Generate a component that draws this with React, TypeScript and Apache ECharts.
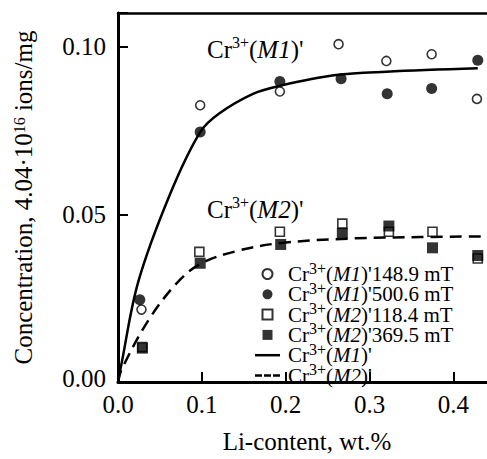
import React, { useEffect, useRef } from 'react';
import * as echarts from 'echarts';

// ---- data ----
const xTickValues = [0.0, 0.1, 0.2, 0.3, 0.4];
const yTickValues = [0.0, 0.05, 0.1];

const m1Open148: [number, number][] = [
  [0.028, 0.0216], [0.098, 0.0825], [0.193, 0.0866], [0.263, 0.1007],
  [0.320, 0.0957], [0.374, 0.0977], [0.428, 0.0844],
];
const m1Filled500: [number, number][] = [
  [0.026, 0.0245], [0.098, 0.0745], [0.193, 0.0896], [0.266, 0.0904],
  [0.321, 0.0859], [0.374, 0.0875], [0.429, 0.0959],
];
const m2Open118: [number, number][] = [
  [0.029, 0.0104], [0.097, 0.0388], [0.193, 0.0448], [0.2675, 0.0472],
  [0.323, 0.0448], [0.375, 0.0448], [0.429, 0.0368],
];
const m2Filled369: [number, number][] = [
  [0.029, 0.0101], [0.098, 0.0354], [0.194, 0.041], [0.2675, 0.0443],
  [0.323, 0.0465], [0.375, 0.040], [0.429, 0.0377],
];
const m1Fit: [number, number][] = [
  [0, 0], [0.0036, 0.0047], [0.0242, 0.0299], [0.0619, 0.0559],
  [0.098, 0.0745], [0.121, 0.0801], [0.161, 0.0859], [0.193, 0.0883],
  [0.260, 0.0915], [0.320, 0.0925], [0.429, 0.0935],
];
const m2Fit: [number, number][] = [
  [0, 0], [0.0044, 0.0038], [0.036, 0.0183], [0.0698, 0.0294],
  [0.098, 0.0352], [0.141, 0.039], [0.193, 0.0414], [0.280, 0.0428],
  [0.360, 0.0432], [0.44, 0.0434],
];

const seriesNames = [
  "Cr3+(M1)'148.9 mT",
  "Cr3+(M1)'500.6 mT",
  "Cr3+(M2)'118.4 mT",
  "Cr3+(M2)'369.5 mT",
  "Cr3+(M1)'",
  "Cr3+(M2)'",
];
const legendRich: Record<string, string> = {
  "Cr3+(M1)'148.9 mT": "{g|}{t|Cr}{s|3+}{t|(}{i|M1}{t|)'148.9 mT}",
  "Cr3+(M1)'500.6 mT": "{g|}{t|Cr}{s|3+}{t|(}{i|M1}{t|)'500.6 mT}",
  "Cr3+(M2)'118.4 mT": "{g|}{t|Cr}{s|3+}{t|(}{i|M2}{t|)'118.4 mT}",
  "Cr3+(M2)'369.5 mT": "{g|}{t|Cr}{s|3+}{t|(}{i|M2}{t|)'369.5 mT}",
  "Cr3+(M1)'": "{g|}{t|Cr}{s|3+}{t|(}{i|M1}{t|)'}",
  "Cr3+(M2)'": "{g|}{t|Cr}{s|3+}{t|(}{i|M2}{t|)'}",
};
const SQUARE = 'path://M0 0H10V10H0Z';
const SOLID_LINE = 'path://M0 0H25V2.5H0Z';
const DASH_LINE = 'path://M0 0H7V2.5H0Z M9 0H16V2.5H9Z M18 0H25V2.5H18Z';

const FONT = "'Liberation Serif', 'Times New Roman', serif";

export default function App() {
  const ref = useRef<HTMLDivElement>(null);
  useEffect(() => {
    const chart = echarts.init(ref.current!, null, { renderer: 'svg' });
    const open = { color: '#fff', borderColor: '#000', borderWidth: 1.6 };
    const filled = { color: '#000', borderColor: '#000', borderWidth: 0 };
    const annRich = {
      t: { fontFamily: FONT, fontSize: 25, lineHeight: 30, fill: '#000' },
      i: { fontFamily: FONT, fontSize: 25, lineHeight: 30, fontStyle: 'italic', fill: '#000' },
      s: { fontFamily: FONT, fontSize: 16, verticalAlign: 'top', fill: '#000' },
    };
    const option: any = {
      animation: false,
      backgroundColor: '#fff',
      grid: { left: 118, top: 13, right: 0, bottom: 66, containLabel: false },
      xAxis: [
        {
          type: 'value', min: 0, max: 0.44, interval: 0.1,
          name: 'Li-content, wt.%', nameLocation: 'middle', nameGap: 47,
          nameTextStyle: { fontFamily: FONT, fontSize: 25, color: '#000', padding: [0, 0, 0, 9] },
          axisLine: { show: true, onZero: false, lineStyle: { color: '#000', width: 3 } },
          axisTick: { show: true, inside: true, length: 10, lineStyle: { color: '#000', width: 2 } },
          axisLabel: {
            fontFamily: FONT, fontSize: 25, color: '#000', margin: 10, showMaxLabel: false,
            formatter: (v: number) => {
              const hit = xTickValues.find((t) => Math.abs(t - v) < 1e-9);
              return hit === undefined ? '' : hit.toFixed(1);
            },
          },
          splitLine: { show: false },
        },
        {
          type: 'value', min: 0, max: 0.44, position: 'top',
          axisLine: { show: true, onZero: false, lineStyle: { color: '#000', width: 2.5 } },
          axisTick: { show: false }, axisLabel: { show: false }, splitLine: { show: false },
        },
      ],
      yAxis: {
        type: 'value', min: 0, max: 0.11, interval: 0.05,
        name: 'Concentration, 4.04·10{s|16} ions/mg',
        nameLocation: 'middle', nameGap: 82, nameRotate: 90,
        nameTextStyle: {
          fontFamily: FONT, fontSize: 25, color: '#000',
          rich: {
            s: { fontFamily: FONT, fontSize: 16, verticalAlign: 'top', color: '#000' },
          },
        },
        axisLine: { show: true, onZero: false, lineStyle: { color: '#000', width: 3 } },
        axisTick: { show: true, inside: true, length: 10, lineStyle: { color: '#000', width: 2 } },
        axisLabel: {
          fontFamily: FONT, fontSize: 25, color: '#000', margin: 12,
          formatter: (v: number) => {
            const hit = yTickValues.find((t) => Math.abs(t - v) < 1e-9);
            if (hit === undefined) return '';
            return hit === 0 ? '{z|0.00}' : hit.toFixed(2);
          },
          rich: { z: { fontFamily: FONT, fontSize: 25, color: '#000', padding: [0, 0, 8, 0] } },
        },
        splitLine: { show: false },
      },
      legend: {
        orient: 'vertical', left: 255, top: 260, padding: 0,
        itemWidth: 25, itemHeight: 10, itemGap: -4.2,
        data: [
          { name: seriesNames[0], icon: 'circle' },
          { name: seriesNames[1], icon: 'circle' },
          { name: seriesNames[2], icon: SQUARE },
          { name: seriesNames[3], icon: SQUARE },
          { name: seriesNames[4], icon: SOLID_LINE },
          { name: seriesNames[5], icon: DASH_LINE },
        ],
        formatter: (name: string) => legendRich[name] || name,
        textStyle: {
          fontFamily: FONT, fontSize: 21, color: '#000',
          rich: {
            g: { width: 3 },
            t: { fontFamily: FONT, fontSize: 21, lineHeight: 28, color: '#000' },
            i: { fontFamily: FONT, fontSize: 21, lineHeight: 28, fontStyle: 'italic', color: '#000' },
            s: { fontFamily: FONT, fontSize: 16, verticalAlign: 'top', color: '#000' },
          },
        },
      },
      graphic: [
        { type: 'text', x: 207, y: 34, style: { text: "{t|Cr}{s|3+}{t|(}{i|M1}{t|)'}", rich: annRich } },
        { type: 'text', x: 207, y: 194, style: { text: "{t|Cr}{s|3+}{t|(}{i|M2}{t|)'}", rich: annRich } },
      ],
      series: [
        { name: seriesNames[4], type: 'line', data: m1Fit, smooth: 0.35, symbol: 'none', z: 2,
          lineStyle: { color: '#000', width: 2.5, type: 'solid' }, itemStyle: { color: '#000' } },
        { name: seriesNames[5], type: 'line', data: m2Fit, smooth: 0.35, symbol: 'none', z: 2,
          lineStyle: { color: '#000', width: 2.5, type: [12, 7] }, itemStyle: { color: '#000' } },
        { name: seriesNames[0], type: 'scatter', data: m1Open148, symbol: 'circle', symbolSize: 9, itemStyle: open, z: 3 },
        { name: seriesNames[1], type: 'scatter', data: m1Filled500, symbol: 'circle', symbolSize: 11, itemStyle: filled, z: 3 },
        { name: seriesNames[2], type: 'scatter', data: m2Open118, symbol: 'rect', symbolSize: 9, itemStyle: open, z: 3 },
        { name: seriesNames[3], type: 'scatter', data: m2Filled369, symbol: 'rect', symbolSize: 11, itemStyle: filled, z: 4 },
      ],
    };
    chart.setOption(option);
    return () => chart.dispose();
  }, []);
  return (
    <div
      ref={ref}
      style={{ position: 'absolute', left: 0, top: 0, width: 487, height: 459, background: '#fff' }}
    />
  );
}
